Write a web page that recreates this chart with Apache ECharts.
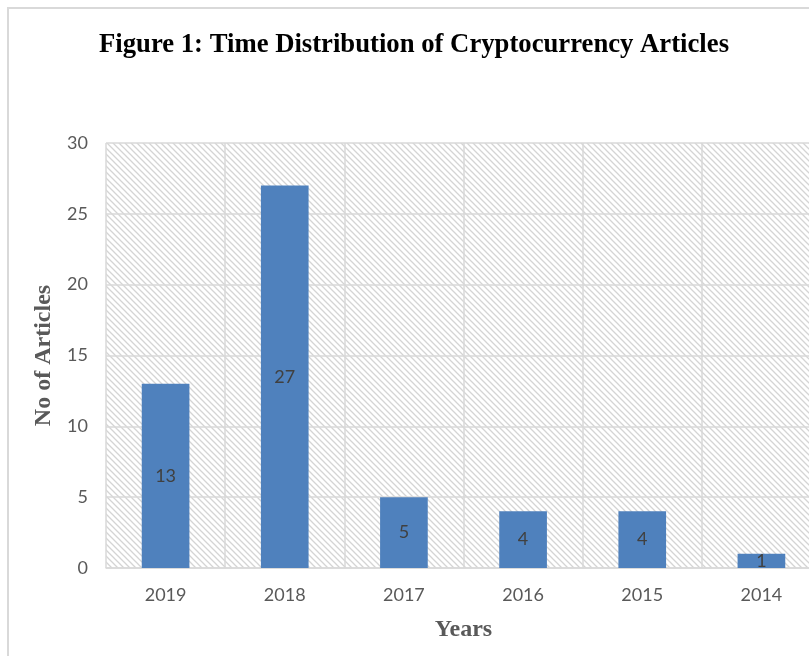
<!DOCTYPE html>
<html>
<head>
<meta charset="utf-8">
<script src="https://cdn.jsdelivr.net/npm/echarts@6/dist/echarts.min.js"></script>
<style>
html,body{margin:0;padding:0;background:#fff;overflow:hidden;}
#chart{width:840px;height:656px;}
</style>
</head>
<body>
<div id="chart"></div>
<script>
const categories = ['2019', '2018', '2017', '2016', '2015', '2014'];
const articleCounts = [13, 27, 5, 4, 4, 1];
const yTicks = [0, 5, 10, 15, 20, 25, 30];

function makeHatch() {
  const c = document.createElement('canvas');
  c.width = 6; c.height = 6;
  const ctx = c.getContext('2d');
  ctx.fillStyle = '#ffffff';
  ctx.fillRect(0, 0, 6, 6);
  ctx.strokeStyle = '#d4d4d4';
  ctx.lineWidth = 1.3;
  ctx.beginPath();
  ctx.moveTo(-1, -1); ctx.lineTo(7, 7);
  ctx.moveTo(-4, 2); ctx.lineTo(4, 10);
  ctx.moveTo(2, -4); ctx.lineTo(10, 4);
  ctx.stroke();
  return c;
}

const chart = echarts.init(document.getElementById('chart'), null, {renderer: 'canvas'});
const labelFont = 'Lato, "Open Sans", sans-serif';
const serif = '"Liberation Serif", "DejaVu Serif", serif';

chart.setOption({
  animation: false,
  backgroundColor: '#ffffff',
  graphic: [{
    type: 'rect',
    shape: {x: 8, y: 8, width: 900, height: 700},
    style: {fill: 'none', stroke: '#d9d9d9', lineWidth: 2},
    z: -10
  }],
  title: {
    text: 'Figure 1: Time Distribution of Cryptocurrency Articles',
    left: 409, top: 27, textAlign: 'center',
    textStyle: {fontFamily: serif, fontWeight: 'bold', fontSize: 26.7, color: '#000000'}
  },
  grid: {
    left: 106, top: 143, width: 715, height: 425,
    show: true, borderWidth: 0,
    backgroundColor: {image: makeHatch(), repeat: 'repeat'}
  },
  xAxis: {
    type: 'category',
    data: categories,
    name: 'Years',
    nameLocation: 'middle',
    nameGap: 50,
    nameTextStyle: {fontFamily: serif, fontWeight: 'bold', fontSize: 24, color: '#595959'},
    axisLine: {show: true, lineStyle: {color: '#d9d9d9', width: 1.5}},
    axisTick: {show: false},
    axisLabel: {fontFamily: labelFont, fontSize: 18, color: '#595959', margin: 18},
    splitLine: {show: true, lineStyle: {color: '#d9d9d9', width: 1.5}}
  },
  yAxis: {
    type: 'value',
    min: yTicks[0], max: yTicks[yTicks.length - 1], interval: 5,
    name: 'No of Articles',
    nameLocation: 'middle',
    nameGap: 48,
    nameTextStyle: {fontFamily: serif, fontWeight: 'bold', fontSize: 24, color: '#595959'},
    axisLine: {show: false},
    axisTick: {show: false},
    axisLabel: {fontFamily: labelFont, fontSize: 18, color: '#595959', margin: 18},
    splitLine: {show: true, lineStyle: {color: '#d9d9d9', width: 1.5}}
  },
  series: [{
    type: 'bar',
    data: articleCounts,
    barWidth: '40%',
    itemStyle: {color: '#4f81bd'},
    label: {show: true, position: 'inside', fontFamily: labelFont, fontSize: 18, color: '#404040'}
  }]
});
</script>
</body>
</html>
